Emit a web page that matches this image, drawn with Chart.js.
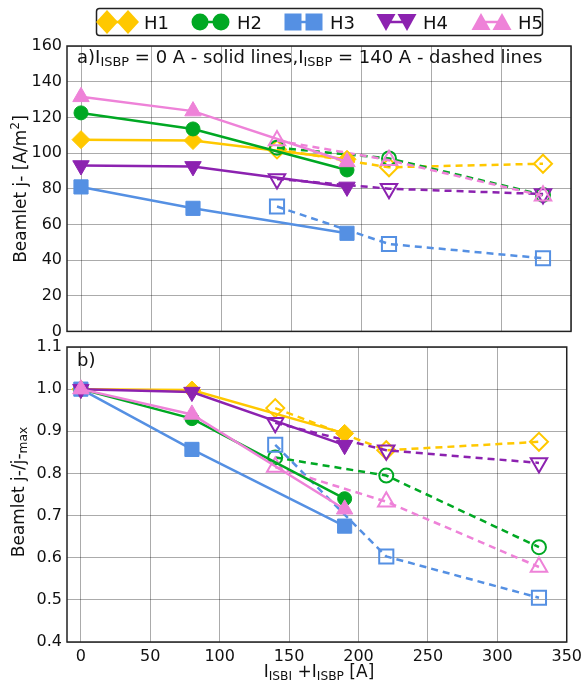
<!DOCTYPE html>
<html>
<head>
<meta charset="utf-8">
<script src="https://cdn.jsdelivr.net/npm/chart.js@4.4.0/dist/chart.umd.min.js"></script>
<style>
  body { margin: 0; background: #fff; font-family: 'DejaVu Sans', sans-serif; }
  #wrap { position: relative; width: 587px; height: 684px; overflow: hidden; }
  canvas { position: absolute; left: 0; }
  .txt { position: absolute; color: #111; white-space: nowrap; }
  .txt sub { font-size: 0.72em; vertical-align: -0.25em; }
  .ytitle { position: absolute; transform: translate(-50%, -50%) rotate(-90deg); white-space: nowrap; font-size: 17px; color: #111; }
  .ytitle sub { font-size: 0.72em; vertical-align: -0.25em; }
  .ytitle sup { font-size: 0.72em; }
  #legend { position: absolute; left: 0; top: 0; z-index: 5; }
</style>
</head>
<body>
<div id="wrap">
  <canvas id="top" width="587" height="320" style="top:26px"></canvas>
  <canvas id="bottom" width="587" height="354" style="top:330px"></canvas>
  <svg id="legend" width="587" height="40"></svg>
  <div class="txt" style="left:77px;top:46px;font-size:18px;">a)I<sub>ISBP</sub> = 0 A - solid lines,I<sub>ISBP</sub> = 140 A - dashed lines</div>
  <div class="txt" style="left:77px;top:349px;font-size:18px;">b)</div>
  <div class="ytitle" style="left:19px;top:189px;">Beamlet j- [A/m<sup>2</sup>]</div>
  <div class="ytitle" style="left:19px;top:492px;">Beamlet j-/j-<sub>max</sub></div>
  <div class="txt" style="left:319px;top:661px;font-size:17px;transform:translateX(-50%);">I<sub>ISBI</sub> +I<sub>ISBP</sub> [A]</div>
</div>
<script>
// series names and colours
const labels = ["H1", "H2", "H3", "H4", "H5"];
const colors = ["#ffc800", "#00a823", "#5590e3", "#8c22b0", "#ee82d8"];

// I_ISBI + I_ISBP for the two cases
const xSolid = [0, 80, 190];     // I_ISBP = 0 A
const xDashed = [140, 220, 330]; // I_ISBP = 140 A

// panel a) beamlet current density [A/m2], rows H1..H5
const jSolid = [
  [107.5, 107, 96.5],
  [122.5, 113.5, 90.5],
  [81, 69, 55],
  [93, 92.5, 81],
  [131.5, 123.5, 95]
];
const jDashed = [
  [102, 92, 94],
  [103, 97, 76.5],
  [70, 49, 41],
  [85.5, 80, 77],
  [107, 96, 76]
];

// panel b) normalised j-/j-max, rows H1..H5
const rSolid = [
  [1.0, 0.998, 0.895],
  [1.0, 0.93, 0.74],
  [1.0, 0.857, 0.675],
  [1.0, 0.993, 0.867],
  [1.0, 0.94, 0.715]
];
const rDashed = [
  [0.955, 0.855, 0.875],
  [0.838, 0.795, 0.625],
  [0.868, 0.603, 0.505],
  [0.92, 0.855, 0.825],
  [0.815, 0.733, 0.578]
];

const xTicks = [0, 50, 100, 150, 200, 250, 300, 350];
const jTicks = [0, 20, 40, 60, 80, 100, 120, 140, 160];
const rTicks = [0.4, 0.5, 0.6, 0.7, 0.8, 0.9, 1.0, 1.1];

const markers = ["rectRot", "circle", "rect", "triangle", "triangle"];
const rotations = [0, 0, 0, 180, 0];
const radii = [9, 7, 10, 9.5, 9.5];

const font = { family: "DejaVu Sans", size: 16 };

// black box round the plot
const frame = {
  id: "frame",
  afterDatasetsDraw(c) {
    const a = c.chartArea, ctx = c.ctx;
    ctx.save();
    ctx.strokeStyle = "#222";
    ctx.lineWidth = 1.5;
    ctx.strokeRect(a.left, a.top, a.right - a.left, a.bottom - a.top);
    ctx.restore();
  }
};

function buildSets(solid, dashed) {
  let sets = [];
  for (let i = 0; i < labels.length; i++) {
    sets.push({
      label: labels[i] + " dashed",
      data: xDashed.map((x, k) => ({ x: x, y: dashed[i][k] })),
      borderColor: colors[i],
      backgroundColor: "rgba(0,0,0,0)",
      borderWidth: 2.5,
      borderDash: [7, 5],
      pointStyle: markers[i],
      rotation: rotations[i],
      pointRadius: radii[i],
      pointBorderWidth: 2,
      pointBackgroundColor: "rgba(0,0,0,0)",
      order: 20 - i
    });
  }
  for (let i = 0; i < labels.length; i++) {
    sets.push({
      label: labels[i],
      data: xSolid.map((x, k) => ({ x: x, y: solid[i][k] })),
      borderColor: colors[i],
      backgroundColor: colors[i],
      borderWidth: 2.5,
      pointStyle: markers[i],
      rotation: rotations[i],
      pointRadius: radii[i],
      pointBorderWidth: 1,
      pointBackgroundColor: colors[i],
      order: 10 - i
    });
  }
  return sets;
}

function makePanel(id, solid, dashed, yTicks, showX, pad, xHeight) {
  const ctx = document.getElementById(id).getContext("2d");
  return new Chart(ctx, {
    type: "line",
    data: { datasets: buildSets(solid, dashed) },
    options: {
      responsive: false,
      animation: false,
      devicePixelRatio: 1,
      layout: { padding: { left: 0, right: 16, top: pad, bottom: 0 } },
      plugins: { legend: { display: false }, tooltip: { enabled: false } },
      scales: {
        x: {
          type: "linear",
          min: -10,
          max: 350,
          afterBuildTicks: (s) => { s.ticks = xTicks.map(v => ({ value: v })); },
          afterFit: (s) => { s.height = xHeight; },
          ticks: { display: showX, font: font, color: "#111", padding: 5, maxRotation: 0, autoSkip: false },
          grid: { color: "rgba(0,0,0,0.33)", lineWidth: 1, drawTicks: false },
          border: { display: false }
        },
        y: {
          min: yTicks[0],
          max: yTicks[yTicks.length - 1],
          afterBuildTicks: (s) => { s.ticks = yTicks.map(v => ({ value: v })); },
          afterFit: (s) => { s.width = 67; },
          ticks: {
            font: font, color: "#111", padding: 5,
            callback: (v) => yTicks === rTicks ? v.toFixed(1) : v
          },
          grid: { color: "rgba(0,0,0,0.33)", lineWidth: 1, drawTicks: false },
          border: { display: false }
        }
      }
    },
    plugins: [frame]
  });
}

makePanel("top", jSolid, jDashed, jTicks, false, 20, 13);
makePanel("bottom", rSolid, rDashed, rTicks, true, 17, 42);

// legend: two markers joined by a line, then the name
const svgNS = "http://www.w3.org/2000/svg";
const leg = document.getElementById("legend");
function el(tag, attrs) {
  const e = document.createElementNS(svgNS, tag);
  for (const k in attrs) e.setAttribute(k, attrs[k]);
  leg.appendChild(e);
  return e;
}
el("rect", { x: 96.5, y: 8.5, width: 446, height: 27, rx: 3, fill: "#fff", stroke: "#222", "stroke-width": 1.5 });
const legX = [107, 200, 293, 386, 481];
const cy = 22;
for (let i = 0; i < labels.length; i++) {
  const x1 = legX[i], x2 = legX[i] + 21, c = colors[i];
  el("line", { x1: x1, y1: cy, x2: x2, y2: cy, stroke: c, "stroke-width": 2.5 });
  [x1, x2].forEach(x => {
    if (i === 0) el("path", { d: `M${x} ${cy - 12} L${x + 11} ${cy} L${x} ${cy + 12} L${x - 11} ${cy} Z`, fill: c });
    if (i === 1) el("circle", { cx: x, cy: cy, r: 8.5, fill: c });
    if (i === 2) el("rect", { x: x - 8.5, y: cy - 8.5, width: 17, height: 17, fill: c });
    if (i === 3) el("path", { d: `M${x - 9.5} ${cy - 8} L${x + 9.5} ${cy - 8} L${x} ${cy + 9} Z`, fill: c });
    if (i === 4) el("path", { d: `M${x - 9.5} ${cy + 8} L${x + 9.5} ${cy + 8} L${x} ${cy - 9} Z`, fill: c });
  });
  const t = el("text", { x: x2 + 16, y: cy + 6.5, "font-family": "DejaVu Sans", "font-size": 18, fill: "#111" });
  t.textContent = labels[i];
}
</script>
</body>
</html>
